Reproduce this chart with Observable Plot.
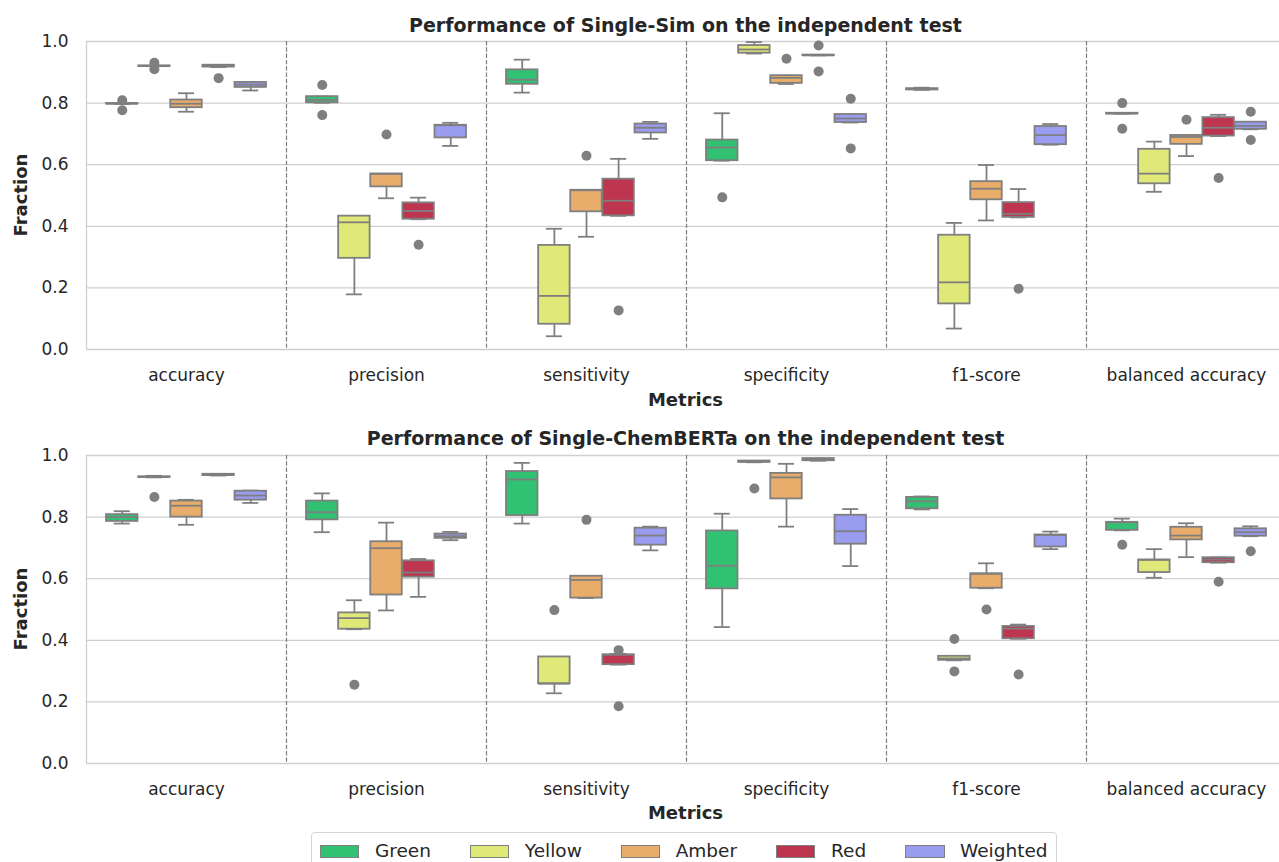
<!DOCTYPE html>
<html>
<head>
<meta charset="utf-8">
<script src="https://cdn.jsdelivr.net/npm/d3@7"></script>
<script src="https://cdn.jsdelivr.net/npm/@observablehq/plot@0.6"></script>
<style>
  html, body { margin: 0; padding: 0; background: #fff; overflow: hidden; }
  #page { position: relative; width: 1279px; height: 862px; overflow: hidden; font-family: "DejaVu Sans", sans-serif; color: #262626; }
  .panel { position: absolute; left: 0; width: 1287px; }
  .title { position: absolute; left: 84px; width: 1203px; text-align: center; font-weight: bold; font-size: 19px; line-height: 22px; white-space: nowrap; }
  .xlabel { position: absolute; left: 84px; width: 1203px; text-align: center; font-weight: bold; font-size: 18px; line-height: 20px; }
  .ylabel { position: absolute; font-weight: bold; font-size: 18px; line-height: 20px; white-space: nowrap; transform: translate(-50%, -50%) rotate(-90deg); }
  #legend { position: absolute; left: 311px; top: 832px; display: flex; align-items: center; gap: 39px; padding: 7px 8px 9px 8px; border: 1px solid #d6d6d6; border-radius: 4px; background: #fff; font-size: 18.5px; line-height: 22px; }
  .item { display: flex; align-items: center; gap: 15.5px; }
  .swatch { width: 37.4px; height: 11px; border: 1.3px solid #7f7f7f; }
</style>
</head>
<body>
<div id="page">
  <div class="title" style="top:14px">Performance of Single-Sim on the independent test</div>
  <div class="title" style="top:427px">Performance of Single-ChemBERTa on the independent test</div>
  <div class="xlabel" style="top:390px">Metrics</div>
  <div class="xlabel" style="top:803px">Metrics</div>
  <div class="ylabel" style="left:21px; top:195px">Fraction</div>
  <div class="ylabel" style="left:21px; top:609px">Fraction</div>
  <div id="panel1" class="panel" style="top:0px"></div>
  <div id="panel2" class="panel" style="top:414px"></div>
  <div id="legend"></div>
</div>
<script>
const metrics = ["accuracy", "precision", "sensitivity", "specificity", "f1-score", "balanced accuracy"];
const classes = ["Green", "Yellow", "Amber", "Red", "Weighted"];
const classColors = ["#31c172", "#e0e878", "#e8ad6a", "#be3550", "#9a9cf0"];
const yTicks = [0, 0.2, 0.4, 0.6, 0.8, 1.0];

// Single-Sim: rows are metrics, columns are classes (Green, Yellow, Amber, Red, Weighted)
const simLow = [
  [0.798, 0.920, 0.772, 0.917, 0.841],
  [0.801, 0.179, 0.491, 0.423, 0.661],
  [0.834, 0.043, 0.366, 0.434, 0.684],
  [0.613, 0.961, 0.862, 0.955, 0.737],
  [0.843, 0.068, 0.419, 0.429, 0.665],
  [0.766, 0.512, 0.628, 0.693, 0.715]
];
const simQ1 = [
  [0.797, 0.919, 0.785, 0.917, 0.851],
  [0.801, 0.296, 0.528, 0.423, 0.687],
  [0.861, 0.082, 0.447, 0.434, 0.703],
  [0.613, 0.962, 0.864, 0.954, 0.737],
  [0.843, 0.148, 0.486, 0.429, 0.665],
  [0.765, 0.538, 0.666, 0.693, 0.715]
];
const simMedian = [
  [0.798, 0.920, 0.798, 0.920, 0.860],
  [0.810, 0.413, 0.570, 0.450, 0.728],
  [0.876, 0.174, 0.517, 0.483, 0.720],
  [0.656, 0.974, 0.882, 0.955, 0.750],
  [0.845, 0.218, 0.522, 0.440, 0.696],
  [0.766, 0.571, 0.690, 0.720, 0.726]
];
const simQ3 = [
  [0.799, 0.921, 0.810, 0.923, 0.867],
  [0.821, 0.433, 0.570, 0.476, 0.728],
  [0.908, 0.338, 0.517, 0.553, 0.732],
  [0.680, 0.987, 0.889, 0.956, 0.763],
  [0.847, 0.371, 0.545, 0.477, 0.724],
  [0.767, 0.650, 0.695, 0.753, 0.738]
];
const simHigh = [
  [0.799, 0.921, 0.832, 0.923, 0.868],
  [0.821, 0.433, 0.570, 0.493, 0.736],
  [0.941, 0.392, 0.517, 0.619, 0.739],
  [0.767, 0.998, 0.889, 0.956, 0.763],
  [0.850, 0.411, 0.599, 0.521, 0.732],
  [0.767, 0.675, 0.695, 0.762, 0.738]
];
const simOutliers = [
  ["accuracy", "Green", 0.809], ["accuracy", "Green", 0.777],
  ["accuracy", "Yellow", 0.931], ["accuracy", "Yellow", 0.910],
  ["accuracy", "Red", 0.881],
  ["precision", "Green", 0.859], ["precision", "Green", 0.761],
  ["precision", "Amber", 0.698], ["precision", "Red", 0.340],
  ["sensitivity", "Amber", 0.629], ["sensitivity", "Red", 0.127],
  ["specificity", "Green", 0.494], ["specificity", "Amber", 0.944],
  ["specificity", "Red", 0.987], ["specificity", "Red", 0.903],
  ["specificity", "Weighted", 0.814], ["specificity", "Weighted", 0.653],
  ["f1-score", "Red", 0.197],
  ["balanced accuracy", "Green", 0.800], ["balanced accuracy", "Green", 0.717],
  ["balanced accuracy", "Amber", 0.746], ["balanced accuracy", "Red", 0.557],
  ["balanced accuracy", "Weighted", 0.772], ["balanced accuracy", "Weighted", 0.680]
];

// Single-ChemBERTa: rows are metrics, columns are classes
const bertLow = [
  [0.779, 0.929, 0.775, 0.935, 0.846],
  [0.751, 0.436, 0.497, 0.541, 0.725],
  [0.779, 0.228, 0.537, 0.321, 0.692],
  [0.443, 0.978, 0.769, 0.983, 0.641],
  [0.825, 0.335, 0.569, 0.405, 0.696],
  [0.757, 0.603, 0.670, 0.652, 0.738]
];
const bertQ1 = [
  [0.786, 0.929, 0.800, 0.935, 0.855],
  [0.791, 0.436, 0.547, 0.605, 0.731],
  [0.805, 0.259, 0.537, 0.321, 0.709],
  [0.567, 0.978, 0.859, 0.983, 0.712],
  [0.827, 0.335, 0.569, 0.405, 0.703],
  [0.757, 0.620, 0.726, 0.652, 0.738]
];
const bertMedian = [
  [0.800, 0.930, 0.837, 0.937, 0.870],
  [0.816, 0.472, 0.699, 0.620, 0.738],
  [0.922, 0.259, 0.596, 0.353, 0.740],
  [0.642, 0.980, 0.929, 0.987, 0.754],
  [0.851, 0.341, 0.616, 0.438, 0.742],
  [0.783, 0.661, 0.740, 0.662, 0.751]
];
const bertQ3 = [
  [0.808, 0.931, 0.852, 0.939, 0.884],
  [0.852, 0.489, 0.720, 0.658, 0.745],
  [0.948, 0.346, 0.608, 0.353, 0.764],
  [0.755, 0.982, 0.942, 0.990, 0.806],
  [0.864, 0.348, 0.616, 0.445, 0.742],
  [0.783, 0.661, 0.767, 0.668, 0.762]
];
const bertHigh = [
  [0.819, 0.934, 0.856, 0.939, 0.886],
  [0.877, 0.530, 0.782, 0.664, 0.752],
  [0.976, 0.346, 0.608, 0.356, 0.769],
  [0.811, 0.982, 0.973, 0.990, 0.826],
  [0.867, 0.348, 0.650, 0.451, 0.753],
  [0.795, 0.696, 0.780, 0.669, 0.770]
];
const bertOutliers = [
  ["accuracy", "Yellow", 0.865],
  ["precision", "Yellow", 0.256],
  ["sensitivity", "Yellow", 0.498], ["sensitivity", "Amber", 0.791],
  ["sensitivity", "Red", 0.368], ["sensitivity", "Red", 0.186],
  ["specificity", "Yellow", 0.893],
  ["f1-score", "Yellow", 0.404], ["f1-score", "Yellow", 0.299],
  ["f1-score", "Amber", 0.500], ["f1-score", "Red", 0.289],
  ["balanced accuracy", "Green", 0.710], ["balanced accuracy", "Red", 0.590],
  ["balanced accuracy", "Weighted", 0.689]
];

// Build one record per (metric, class) box from the statistic tables
function boxRows(low, q1, med, q3, high) {
  const rows = [];
  metrics.forEach((metric, i) => {
    classes.forEach((cls, j) => {
      rows.push({metric, cls, idx: j, low: low[i][j], q1: q1[i][j], med: med[i][j], q3: q3[i][j], high: high[i][j]});
    });
  });
  return rows;
}
function outlierRows(list) {
  return list.map(([metric, cls, value]) => ({metric, cls, idx: classes.indexOf(cls), value}));
}

const gray = "#7f7f7f";
const lineW = 1.8;
const half = 3.113;          // half of a metric group, in box slots
const boxHalf = 0.49;        // half of a box width, in box slots
const capHalf = 0.25;        // half of a whisker cap, in box slots

function panel(rows, outliers) {
  return Plot.plot({
    width: 1287,
    height: 414,
    marginLeft: 84,
    marginRight: 0,
    marginTop: 41,
    marginBottom: 65,
    style: {fontFamily: "DejaVu Sans", fontSize: "17px", color: "#262626", background: "transparent", overflow: "visible", maxWidth: "none"},
    fx: {domain: metrics, padding: 0, label: null},
    x: {domain: [2 - half, 2 + half], axis: null},
    y: {domain: [0, 1], label: null},
    color: {domain: classes, range: classColors},
    marks: [
      Plot.gridY({ticks: yTicks, stroke: "#cfcfcf", strokeOpacity: 1, strokeWidth: 1.3}),
      Plot.axisY({ticks: yTicks, tickFormat: d3.format(".1f"), tickSize: 0, tickPadding: 18, label: null, fontSize: 17}),
      Plot.axisFx({anchor: "bottom", tickSize: 0, tickPadding: 19, label: null, fontSize: 17}),
      Plot.ruleX([metrics[0]], {fx: d => d, x: () => 2 - half, stroke: "#cfcfcf", strokeWidth: 1.3}),
      Plot.ruleX(metrics.slice(0, -1), {fx: d => d, x: () => 2 + half, stroke: gray, strokeWidth: 1.2, strokeDasharray: "4.4,1.9"}),
      // whiskers
      Plot.ruleX(rows, {fx: "metric", x: "idx", y1: "low", y2: "q1", stroke: gray, strokeWidth: lineW}),
      Plot.ruleX(rows, {fx: "metric", x: "idx", y1: "q3", y2: "high", stroke: gray, strokeWidth: lineW}),
      // whisker caps
      Plot.ruleY(rows, {fx: "metric", x1: d => d.idx - capHalf, x2: d => d.idx + capHalf, y: "low", stroke: gray, strokeWidth: lineW}),
      Plot.ruleY(rows, {fx: "metric", x1: d => d.idx - capHalf, x2: d => d.idx + capHalf, y: "high", stroke: gray, strokeWidth: lineW}),
      // interquartile boxes
      Plot.rect(rows, {fx: "metric", x1: d => d.idx - boxHalf, x2: d => d.idx + boxHalf, y1: "q1", y2: "q3", fill: "cls", stroke: gray, strokeWidth: lineW}),
      // medians
      Plot.ruleY(rows, {fx: "metric", x1: d => d.idx - boxHalf, x2: d => d.idx + boxHalf, y: "med", stroke: gray, strokeWidth: lineW}),
      // outliers
      Plot.dot(outliers, {fx: "metric", x: "idx", y: "value", r: 5, fill: gray, stroke: "none"})
    ]
  });
}

document.getElementById("panel1").append(panel(
  boxRows(simLow, simQ1, simMedian, simQ3, simHigh), outlierRows(simOutliers)));
document.getElementById("panel2").append(panel(
  boxRows(bertLow, bertQ1, bertMedian, bertQ3, bertHigh), outlierRows(bertOutliers)));

// legend
const legend = document.getElementById("legend");
classes.forEach((cls, i) => {
  const item = document.createElement("div");
  item.className = "item";
  const sw = document.createElement("div");
  sw.className = "swatch";
  sw.style.background = classColors[i];
  const label = document.createElement("span");
  label.textContent = cls;
  item.append(sw, label);
  legend.append(item);
});
</script>
</body>
</html>
